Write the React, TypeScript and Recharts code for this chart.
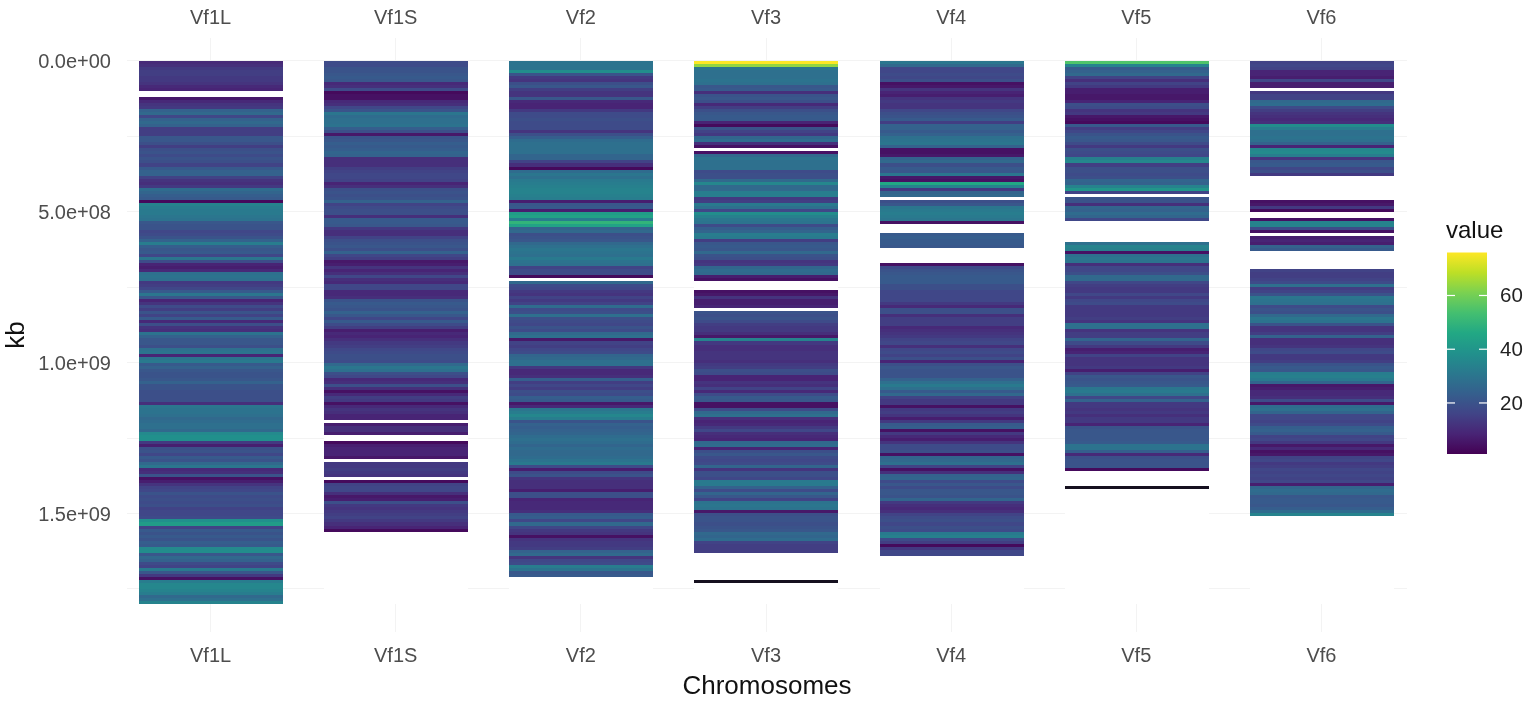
import React from "react";
import { BarChart, Bar, Cell, XAxis, YAxis, CartesianGrid } from "recharts";

const _ = null;
const chromosomes = ["Vf1L", "Vf1S", "Vf2", "Vf3", "Vf4", "Vf5", "Vf6"];
const yTicks = [0, 5e8, 1e9, 1.5e9];
const gridValues = [0, 2.5e8, 5e8, 7.5e8, 1e9, 1.25e9, 1.5e9, 1.75e9];
const legendTicks = [20, 40, 60];
const viridis = ["#440154", "#482475", "#414487", "#355f8d", "#2a788e", "#21918c", "#22a884", "#44bf70", "#7ad151", "#bddf26", "#fde725"];
const BIN_SIZE = 1e7;
const BIN_COUNT = 180;

const vf1L = [
  7,8,10,11,11,10,10,9,7,6,
  _,_,4,7,9,10,20,22,13,20,
  22,20,11,11,11,17,17,15,11,15,
  16,14,16,15,12,18,20,20,12,9,
  8,10,23,21,19,18,2,30,28,27,
  27,26,25,17,16,16,13,14,16,20,
  28,19,17,18,13,26,14,6,5,7,
  24,25,24,10,11,13,18,26,17,6,
  9,14,11,16,12,18,7,15,9,8,
  25,20,17,17,15,24,25,6,25,27,
  18,20,17,16,16,17,20,16,16,15,
  15,15,15,8,26,25,25,24,22,23,
  24,24,22,32,34,34,10,5,15,16,
  13,18,16,22,26,7,8,16,3,5,
  9,12,13,16,14,15,14,15,12,13,
  13,14,34,38,12,18,16,18,16,19,
  18,32,33,17,22,20,14,12,27,17,
  10,3,28,31,31,30,28,22,24,30,
];
const vf1S = [
  14,14,16,16,17,18,17,7,8,14,
  2,3,3,7,8,13,16,26,23,24,
  24,25,19,15,4,16,17,19,18,19,
  21,20,8,8,8,11,12,13,13,12,
  6,8,15,16,15,16,20,12,14,15,
  15,8,18,18,17,10,8,8,12,15,
  16,17,15,20,13,11,4,5,9,6,
  8,13,8,7,13,13,7,7,8,16,
  18,17,16,20,17,13,18,14,11,5,
  7,6,8,10,11,13,14,15,15,14,
  22,26,24,15,13,7,8,15,8,3,
  7,11,10,3,7,9,8,6,6,_,
  5,8,8,5,_,_,2,5,6,6,
  6,4,_,10,10,11,10,9,_,2,
  12,13,13,8,4,5,15,10,9,10,
  11,12,10,8,6,2,
];
const vf2 = [
  25,25,25,33,16,10,9,15,17,11,
  9,9,17,7,6,6,10,14,14,15,
  14,14,14,9,15,19,23,24,24,24,
  24,21,21,12,8,2,23,26,24,27,
  28,29,30,30,29,28,5,17,18,5,
  38,40,28,46,40,20,22,15,16,17,
  22,24,26,25,24,27,25,24,12,14,
  14,2,_,22,14,13,10,9,12,10,
  12,23,14,15,24,15,14,13,16,14,
  22,24,4,12,11,13,14,21,22,24,
  24,10,7,7,8,19,11,13,11,15,
  14,19,18,4,7,26,28,31,28,16,
  20,19,20,21,23,24,23,21,23,22,
  22,23,25,27,14,5,14,16,9,8,
  8,8,5,15,15,6,7,7,7,8,
  18,19,13,22,13,10,9,3,9,10,
  10,11,20,22,9,13,14,28,25,17,
  18,
];
const vf3 = [
  76,62,26,24,24,24,25,24,17,18,
  8,16,17,15,7,11,15,17,18,18,
  6,2,16,12,10,21,23,8,3,_,
  3,22,25,24,24,24,14,15,15,22,
  31,22,22,28,28,10,11,27,24,13,
  33,29,26,25,14,19,21,28,27,11,
  17,18,17,22,16,15,9,10,21,23,
  22,5,3,_,_,_,3,4,9,5,
  5,6,_,16,15,16,14,11,10,10,
  8,4,30,10,8,8,9,9,9,8,
  10,11,15,14,6,6,9,8,12,7,
  14,18,17,3,3,14,22,24,8,6,
  7,10,13,8,7,6,22,23,6,15,
  17,14,13,14,21,9,15,15,13,27,
  27,20,14,21,17,12,25,26,25,4,
  15,16,16,15,16,17,22,21,23,12,
  11,11,11,_,_,_,_,_,_,_,
  _,_,0,
];
const vf4 = [
  26,22,13,13,14,13,15,3,4,9,
  6,5,9,10,9,9,13,15,16,18,
  11,20,20,18,20,24,25,26,20,3,
  3,4,20,22,15,18,17,26,4,3,
  42,30,10,21,22,_,15,17,26,27,
  28,27,26,3,_,_,_,18,19,18,
  18,17,_,_,_,_,_,3,14,16,
  17,18,18,18,15,15,13,13,13,13,
  10,7,15,15,8,11,11,11,7,8,
  9,10,12,13,8,13,14,12,15,6,
  15,17,16,16,16,20,24,27,24,18,
  22,12,10,10,3,10,11,9,5,10,
  18,19,3,10,7,5,9,14,14,15,
  3,21,22,24,12,3,8,20,21,14,
  17,14,17,17,16,21,10,8,7,8,
  12,14,15,13,15,14,27,29,14,11,
  2,10,13,13,
];
const vf5 = [
  52,30,18,20,22,12,8,12,10,5,
  5,4,4,6,15,14,9,10,4,3,
  2,18,11,13,16,18,17,14,10,15,
  14,13,29,31,11,15,15,14,15,21,
  20,30,36,12,_,16,16,8,21,20,
  23,21,13,_,_,_,_,_,_,_,
  24,30,29,3,24,26,25,8,13,13,
  15,22,22,13,11,10,10,13,10,13,
  14,10,10,10,10,11,9,24,24,9,
  11,11,21,14,10,5,6,12,9,9,
  9,10,5,12,17,16,17,18,26,27,
  24,13,20,10,10,9,10,8,10,10,
  6,16,17,17,17,17,18,25,25,19,
  7,15,16,16,16,2,_,_,_,_,
  _,0,
];
const vf6 = [
  12,13,12,6,6,5,13,5,5,_,
  10,12,12,22,23,14,11,9,8,7,
  8,33,28,24,24,25,24,20,6,31,
  32,28,9,17,18,13,15,10,_,_,
  _,_,_,_,_,_,3,4,10,2,
  _,_,3,30,30,14,3,_,5,6,
  5,20,18,_,_,_,_,_,_,12,
  11,11,12,14,24,11,12,16,26,25,
  24,14,16,15,22,26,25,16,9,9,
  11,20,8,8,9,13,14,10,10,11,
  16,18,17,28,29,27,21,4,5,7,
  7,8,14,4,23,24,21,13,13,12,
  14,19,20,18,12,13,10,4,7,3,
  4,12,13,10,11,13,12,13,12,13,
  5,21,23,22,17,18,18,17,19,23,
  30,
];
const columns = [vf1L, vf1S, vf2, vf3, vf4, vf5, vf6];

const lerpHex = (a: string, b: string, t: number) => {
  const p = (h: string, i: number) => parseInt(h.slice(i, i + 2), 16);
  const c = [1, 3, 5].map((i) => Math.round(p(a, i) + (p(b, i) - p(a, i)) * t));
  return `rgb(${c[0]},${c[1]},${c[2]})`;
};
const colorOf = (v: number | null | undefined) => {
  if (v === null || v === undefined) return "#ffffff";
  if (v <= 0) return "#15101f";
  const norm = Math.min(1, Math.max(0, (v - 1) / 75));
  const t = Math.pow(norm, 0.85) * (viridis.length - 1);
  const i = Math.min(viridis.length - 2, Math.floor(t));
  return lerpHex(viridis[i], viridis[i + 1], t - i);
};

const binKeys = Array.from({ length: BIN_COUNT }, (_v, i) => `b${i}`);
const rows = chromosomes.map((name) => {
  const row: Record<string, string | number> = { name };
  binKeys.forEach((k) => (row[k] = BIN_SIZE));
  return row;
});
const sci = (v: number) => {
  const [m, e] = v.toExponential(1).split("e");
  const n = Math.abs(Number(e));
  return `${m}e${Number(e) < 0 ? "-" : "+"}${n < 10 ? "0" : ""}${n}`;
};

const FONT = "'Liberation Sans', Arial, sans-serif";
const tickStyle = { fontSize: 20, fill: "#4d4d4d", fontFamily: FONT };
const titleStyle = { fontSize: 26, fill: "#111", fontFamily: FONT };

export default function App() {
  return (
    <div style={{ position: "absolute", left: 0, top: 0, width: 1535, height: 702, background: "#fff", shapeRendering: "crispEdges", fontFamily: FONT, filter: "blur(0.4px)" }}>
      <BarChart
        width={1535}
        height={702}
        data={rows}
        barSize={144}
        margin={{ top: 0, right: 128, bottom: 0, left: 17 }}
      >
        <CartesianGrid stroke="#f3f3f3" horizontalValues={gridValues} syncWithTicks xAxisId="bottom" yAxisId="y" />
        <XAxis xAxisId="top" orientation="top" dataKey="name" height={38} padding={{ left: -9, right: -7 }} tickLine={false} axisLine={false} tickSize={0} tickMargin={14} tick={tickStyle} interval={0} />
        <XAxis
          xAxisId="bottom"
          orientation="bottom"
          dataKey="name"
          height={70}
          padding={{ left: -9, right: -7 }}
          tickLine={false}
          axisLine={false}
          tickSize={0}
          tickMargin={16}
          tick={tickStyle}
          interval={0}
          label={{ value: "Chromosomes", position: "insideBottom", offset: 8, style: titleStyle }}
        />
        <YAxis
          yAxisId="y"
          type="number"
          reversed
          width={110}
          domain={[-7.6e7, 1.893e9]}
          allowDataOverflow
          ticks={yTicks}
          tickFormatter={sci}
          tickLine={false}
          axisLine={false}
          tickSize={0}
          tickMargin={16}
          tick={tickStyle}
          label={{ value: "kb", angle: -90, position: "insideLeft", offset: -2, style: { ...titleStyle, textAnchor: "middle" } }}
        />
        {binKeys.map((k, b) => (
          <Bar key={k} dataKey={k} stackId="tiles" xAxisId="bottom" yAxisId="y" isAnimationActive={false} stroke="none">
            {columns.map((col, c) => (
              <Cell key={c} fill={colorOf(col[b])} />
            ))}
          </Bar>
        ))}
      </BarChart>
      <svg width={110} height={260} style={{ position: "absolute", left: 1425, top: 210, shapeRendering: "auto" }}>
        <defs>
          <linearGradient id="viridisBar" x1="0" y1="1" x2="0" y2="0">
            {viridis.map((c, i) => (
              <stop key={c} offset={`${(i * 100) / (viridis.length - 1)}%`} stopColor={c} />
            ))}
          </linearGradient>
        </defs>
        <text x={21} y={28} fontSize={24} fill="#111" fontFamily={FONT}>value</text>
        <rect x={22} y={42.5} width={40} height={201.5} fill="url(#viridisBar)" />
        {legendTicks.map((v) => {
          const y = 244 - ((v - 1) / 75) * 201.5;
          return (
            <g key={v}>
              <line x1={22} x2={30} y1={y} y2={y} stroke="#fff" strokeWidth={1.2} />
              <line x1={54} x2={62} y1={y} y2={y} stroke="#fff" strokeWidth={1.2} />
              <text x={75} y={y + 7} fontSize={20.5} fill="#222" fontFamily={FONT}>{v}</text>
            </g>
          );
        })}
      </svg>
    </div>
  );
}
